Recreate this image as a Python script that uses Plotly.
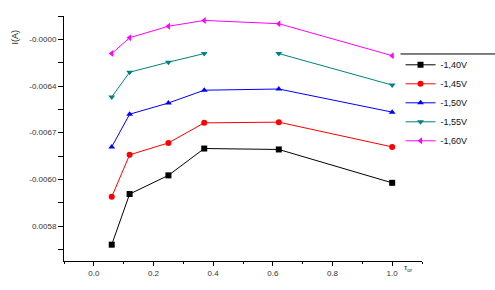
import plotly.graph_objects as go

x_vals = [0.06, 0.12, 0.25, 0.37, 0.62, 1.0]
series_names = ["-1,40V", "-1,45V", "-1,50V", "-1,55V", "-1,60V"]
y_140 = [-0.006880, -0.006663, -0.006583, -0.006468, -0.006472, -0.006615]
y_145 = [-0.006675, -0.006495, -0.006444, -0.006358, -0.006355, -0.006461]
y_150 = [-0.006461, -0.006321, -0.006273, -0.006218, -0.006213, -0.006312]
y_155 = [-0.006247, -0.006141, -0.006098, -0.006061, -0.006061, -0.006196]
y_160 = [-0.006061, -0.005993, -0.005944, -0.005919, -0.005933, -0.006070]
y_tickvals = [-0.0068, -0.0066, -0.0064, -0.0062, -0.0060]
y_ticktext = ["0.0058", "-0.0060", "-0.0067", "-0.0064", "-0.0000"]
x_tickvals = [0.0, 0.2, 0.4, 0.6, 0.8, 1.0]
x_ticktext = ["0.0", "0.2", "0.4", "0.6", "0.8", "1.0"]

colors = ["#000000", "#FF0000", "#0000FF", "#008080", "#FF00FF"]
symbols = ["square", "circle", "triangle-up", "triangle-down", "triangle-left"]
ys = [y_140, y_145, y_150, y_155, y_160]

fig = go.Figure()
for name, y, c, s in zip(series_names, ys, colors, symbols):
    xx, yy = list(x_vals), list(y)
    if name == "-1,55V":
        xx = xx[:4] + [None] + xx[4:]
        yy = yy[:4] + [None] + yy[4:]
    fig.add_trace(go.Scatter(
        x=xx, y=yy, name=name, mode="lines+markers",
        line=dict(color=c, width=1),
        marker=dict(color=c, symbol=s, size=6),
        connectgaps=False,
    ))

fig.update_layout(
    width=495, height=290,
    margin=dict(l=64, r=73, t=16, b=29),
    paper_bgcolor="white", plot_bgcolor="white",
    font=dict(family="Liberation Sans, Arial, sans-serif", size=8, color="#333333"),
    showlegend=True,
    legend=dict(x=0.94, y=0.86, xanchor="left", yanchor="top",
                font=dict(size=9, color="#111111"),
                bgcolor="rgba(0,0,0,0)", tracegroupgap=0, itemwidth=30),
)
fig.update_xaxes(
    range=[-0.1, 1.1], showgrid=False, zeroline=False,
    showline=True, linecolor="black", linewidth=1,
    ticks="outside", ticklen=4, tickcolor="black",
    tickvals=x_tickvals, ticktext=x_ticktext,
    minor=dict(ticks="outside", ticklen=2, dtick=0.1, tick0=0, tickcolor="black"),
)
fig.update_yaxes(
    range=[-0.00695, -0.0059], showgrid=False, zeroline=False,
    showline=True, linecolor="black", linewidth=1,
    ticks="outside", ticklen=5, tickcolor="black",
    tickvals=y_tickvals, ticktext=y_ticktext,
    minor=dict(ticks="outside", ticklen=5, dtick=0.0002, tick0=-0.0069, tickcolor="black"),
)
fig.add_annotation(text="I(A)", textangle=-90, x=0, y=1, xref="paper", yref="paper",
                   xshift=-57, yshift=-12, showarrow=False, font=dict(size=9, color="#222222"))
fig.add_annotation(text="τ<sub>or</sub>", x=1.0, y=0, xref="paper", yref="paper",
                   xshift=-8, yshift=-14, showarrow=False, font=dict(size=8, color="#333333"))
fig.add_shape(type="line", xref="paper", yref="paper", x0=0.94, x1=1.3, y0=0.845, y1=0.845,
              line=dict(color="black", width=1))
fig.write_html("out.html")
